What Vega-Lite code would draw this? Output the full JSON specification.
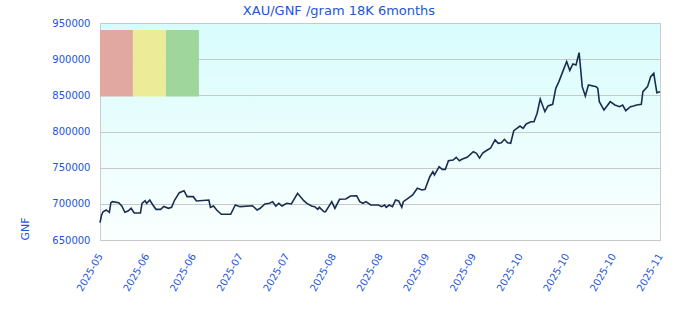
{
  "$schema": "https://vega.github.io/schema/vega-lite/v6.json",
  "width": 560,
  "height": 217,
  "autosize": "none",
  "padding": {"left": 100, "top": 23, "right": 20, "bottom": 80},
  "background": "white",
  "title": {"text": "XAU/GNF /gram 18K 6months", "font": "DejaVu Sans", "fontSize": 13, "fontWeight": "normal", "color": "#2255dd", "anchor": "middle", "dx": -41, "offset": -10, "baseline": "alphabetic"},
  "config": {
    "view": {"stroke": "#cccccc", "fill": {"gradient": "linear", "x1": 0, "y1": 0, "x2": 0, "y2": 1, "stops": [{"offset": 0, "color": "#d8fcfc"}, {"offset": 1, "color": "#fafffe"}]}},
    "font": "DejaVu Sans"
  },
  "datasets": {
    "bands": [
      {"zone": "a", "date": "2025-05-19T00:00", "date_end": "2025-05-29T14:00", "price": 848300, "price_end": 940300},
      {"zone": "b", "date": "2025-05-29T14:00", "date_end": "2025-06-09T05:00", "price": 848300, "price_end": 940300},
      {"zone": "c", "date": "2025-06-09T05:00", "date_end": "2025-06-19T19:00", "price": 848300, "price_end": 940300}
    ],
    "prices": [
      {"date": "2025-05-19T00:00", "price": 673900},
      {"date": "2025-05-19T12:00", "price": 684600},
      {"date": "2025-05-20T00:00", "price": 689100},
      {"date": "2025-05-21T00:00", "price": 691500},
      {"date": "2025-05-22T00:00", "price": 688300},
      {"date": "2025-05-22T12:00", "price": 701600},
      {"date": "2025-05-23T00:00", "price": 703000},
      {"date": "2025-05-25T00:00", "price": 701600},
      {"date": "2025-05-26T00:00", "price": 697000},
      {"date": "2025-05-27T00:00", "price": 688300},
      {"date": "2025-05-28T00:00", "price": 690100},
      {"date": "2025-05-29T00:00", "price": 693800},
      {"date": "2025-05-30T00:00", "price": 687300},
      {"date": "2025-06-01T00:00", "price": 687300},
      {"date": "2025-06-01T12:00", "price": 700700},
      {"date": "2025-06-02T12:00", "price": 704300},
      {"date": "2025-06-03T00:00", "price": 700700},
      {"date": "2025-06-04T00:00", "price": 705300},
      {"date": "2025-06-05T00:00", "price": 698400},
      {"date": "2025-06-06T00:00", "price": 692400},
      {"date": "2025-06-07T12:00", "price": 692400},
      {"date": "2025-06-08T12:00", "price": 696300},
      {"date": "2025-06-10T00:00", "price": 693800},
      {"date": "2025-06-11T00:00", "price": 695200},
      {"date": "2025-06-12T00:00", "price": 705300},
      {"date": "2025-06-13T12:00", "price": 715400},
      {"date": "2025-06-15T00:00", "price": 718200},
      {"date": "2025-06-16T00:00", "price": 709900},
      {"date": "2025-06-18T00:00", "price": 709900},
      {"date": "2025-06-19T00:00", "price": 704000},
      {"date": "2025-06-23T00:00", "price": 705300},
      {"date": "2025-06-23T12:00", "price": 695200},
      {"date": "2025-06-24T12:00", "price": 697000},
      {"date": "2025-06-25T12:00", "price": 691500},
      {"date": "2025-06-27T00:00", "price": 685500},
      {"date": "2025-06-30T00:00", "price": 685500},
      {"date": "2025-07-01T12:00", "price": 698400},
      {"date": "2025-07-03T00:00", "price": 696100},
      {"date": "2025-07-07T00:00", "price": 697400},
      {"date": "2025-07-08T12:00", "price": 691500},
      {"date": "2025-07-09T12:00", "price": 693800},
      {"date": "2025-07-11T00:00", "price": 699800},
      {"date": "2025-07-12T12:00", "price": 700700},
      {"date": "2025-07-13T12:00", "price": 703000},
      {"date": "2025-07-14T12:00", "price": 697000},
      {"date": "2025-07-15T12:00", "price": 700700},
      {"date": "2025-07-16T12:00", "price": 697000},
      {"date": "2025-07-18T00:00", "price": 700700},
      {"date": "2025-07-19T12:00", "price": 699800},
      {"date": "2025-07-21T12:00", "price": 714600},
      {"date": "2025-07-23T12:00", "price": 704300},
      {"date": "2025-07-24T12:00", "price": 700700},
      {"date": "2025-07-26T00:00", "price": 697000},
      {"date": "2025-07-27T00:00", "price": 696100},
      {"date": "2025-07-28T00:00", "price": 692400},
      {"date": "2025-07-28T12:00", "price": 695200},
      {"date": "2025-07-30T00:00", "price": 689100},
      {"date": "2025-07-30T12:00", "price": 689100},
      {"date": "2025-07-31T12:00", "price": 696100},
      {"date": "2025-08-01T12:00", "price": 703000},
      {"date": "2025-08-02T12:00", "price": 693800},
      {"date": "2025-08-04T00:00", "price": 706300},
      {"date": "2025-08-06T00:00", "price": 706700},
      {"date": "2025-08-07T12:00", "price": 710800},
      {"date": "2025-08-09T12:00", "price": 711200},
      {"date": "2025-08-10T12:00", "price": 703000},
      {"date": "2025-08-11T12:00", "price": 700700},
      {"date": "2025-08-12T12:00", "price": 703000},
      {"date": "2025-08-14T00:00", "price": 698400},
      {"date": "2025-08-16T12:00", "price": 698400},
      {"date": "2025-08-17T12:00", "price": 696100},
      {"date": "2025-08-18T12:00", "price": 698400},
      {"date": "2025-08-19T00:00", "price": 695200},
      {"date": "2025-08-20T00:00", "price": 698400},
      {"date": "2025-08-21T00:00", "price": 696100},
      {"date": "2025-08-22T00:00", "price": 705300},
      {"date": "2025-08-23T00:00", "price": 703900},
      {"date": "2025-08-24T00:00", "price": 695200},
      {"date": "2025-08-24T12:00", "price": 703000},
      {"date": "2025-08-26T00:00", "price": 707600},
      {"date": "2025-08-27T12:00", "price": 712200},
      {"date": "2025-08-29T00:00", "price": 721500},
      {"date": "2025-08-30T12:00", "price": 719100},
      {"date": "2025-08-31T12:00", "price": 720100},
      {"date": "2025-09-01T00:00", "price": 726000},
      {"date": "2025-09-02T00:00", "price": 737500},
      {"date": "2025-09-03T00:00", "price": 744400},
      {"date": "2025-09-03T12:00", "price": 739900},
      {"date": "2025-09-05T00:00", "price": 751300},
      {"date": "2025-09-06T00:00", "price": 747700},
      {"date": "2025-09-07T00:00", "price": 747700},
      {"date": "2025-09-08T00:00", "price": 759600},
      {"date": "2025-09-09T12:00", "price": 760600},
      {"date": "2025-09-10T12:00", "price": 764300},
      {"date": "2025-09-11T12:00", "price": 759600},
      {"date": "2025-09-12T12:00", "price": 762000},
      {"date": "2025-09-14T00:00", "price": 764300},
      {"date": "2025-09-16T00:00", "price": 772100},
      {"date": "2025-09-17T00:00", "price": 769800},
      {"date": "2025-09-18T00:00", "price": 763200},
      {"date": "2025-09-19T00:00", "price": 770100},
      {"date": "2025-09-20T12:00", "price": 774400},
      {"date": "2025-09-21T12:00", "price": 776800},
      {"date": "2025-09-23T00:00", "price": 788300},
      {"date": "2025-09-24T00:00", "price": 783700},
      {"date": "2025-09-25T00:00", "price": 784500},
      {"date": "2025-09-26T00:00", "price": 789200},
      {"date": "2025-09-27T00:00", "price": 784500},
      {"date": "2025-09-28T00:00", "price": 783700},
      {"date": "2025-09-29T00:00", "price": 801100},
      {"date": "2025-09-30T00:00", "price": 804400},
      {"date": "2025-10-01T00:00", "price": 807600},
      {"date": "2025-10-02T00:00", "price": 804400},
      {"date": "2025-10-03T00:00", "price": 810400},
      {"date": "2025-10-04T12:00", "price": 813500},
      {"date": "2025-10-05T12:00", "price": 813500},
      {"date": "2025-10-06T12:00", "price": 825200},
      {"date": "2025-10-07T12:00", "price": 844900},
      {"date": "2025-10-09T00:00", "price": 827400},
      {"date": "2025-10-10T00:00", "price": 835300},
      {"date": "2025-10-11T12:00", "price": 837600},
      {"date": "2025-10-12T12:00", "price": 859700},
      {"date": "2025-10-13T12:00", "price": 868900},
      {"date": "2025-10-14T12:00", "price": 880000},
      {"date": "2025-10-16T00:00", "price": 896800},
      {"date": "2025-10-17T00:00", "price": 884400},
      {"date": "2025-10-18T00:00", "price": 893300},
      {"date": "2025-10-19T00:00", "price": 891900},
      {"date": "2025-10-20T00:00", "price": 909000},
      {"date": "2025-10-20T12:00", "price": 886000},
      {"date": "2025-10-21T00:00", "price": 862000},
      {"date": "2025-10-22T00:00", "price": 849100},
      {"date": "2025-10-23T00:00", "price": 864300},
      {"date": "2025-10-25T12:00", "price": 862000},
      {"date": "2025-10-26T00:00", "price": 859700},
      {"date": "2025-10-26T12:00", "price": 841200},
      {"date": "2025-10-28T00:00", "price": 829700},
      {"date": "2025-10-30T00:00", "price": 841200},
      {"date": "2025-10-31T12:00", "price": 836600},
      {"date": "2025-11-02T00:00", "price": 834300},
      {"date": "2025-11-03T00:00", "price": 836600},
      {"date": "2025-11-04T00:00", "price": 828800},
      {"date": "2025-11-05T12:00", "price": 834300},
      {"date": "2025-11-06T12:00", "price": 835300},
      {"date": "2025-11-07T12:00", "price": 836600},
      {"date": "2025-11-09T00:00", "price": 837600},
      {"date": "2025-11-09T12:00", "price": 855000},
      {"date": "2025-11-11T00:00", "price": 862000},
      {"date": "2025-11-12T00:00", "price": 875800},
      {"date": "2025-11-13T00:00", "price": 880500},
      {"date": "2025-11-13T12:00", "price": 866600},
      {"date": "2025-11-14T00:00", "price": 853600},
      {"date": "2025-11-15T00:00", "price": 855000}
    ]
  },
  "encoding": {
    "x": {"field": "date", "type": "temporal", "title": null,
      "scale": {"domain": [{"year": 2025, "month": "May", "date": 19}, {"year": 2025, "month": "Nov", "date": 15}]},
      "axis": {"values": [
        {"year": 2025, "month": "May", "date": 19}, {"year": 2025, "month": "Jun", "date": 3}, {"year": 2025, "month": "Jun", "date": 18},
        {"year": 2025, "month": "Jul", "date": 3}, {"year": 2025, "month": "Jul", "date": 18}, {"year": 2025, "month": "Aug", "date": 2},
        {"year": 2025, "month": "Aug", "date": 17}, {"year": 2025, "month": "Sep", "date": 1}, {"year": 2025, "month": "Sep", "date": 16},
        {"year": 2025, "month": "Oct", "date": 1}, {"year": 2025, "month": "Oct", "date": 16}, {"year": 2025, "month": "Oct", "date": 31},
        {"year": 2025, "month": "Nov", "date": 15}],
        "format": "%Y-%m", "labelAngle": -60, "labelAlign": "right", "labelBaseline": "middle", "labelPadding": 14,
        "labelColor": "#2255dd", "labelFont": "DejaVu Sans", "labelFontSize": 10, "labelFlush": false, "labelOverlap": false, "labelBound": false,
        "ticks": false, "domain": false, "grid": false, "title": null}},
    "y": {"field": "price", "type": "quantitative", "title": "GNF",
      "scale": {"domain": [650000, 950000], "nice": false, "zero": false},
      "axis": {"values": [650000, 700000, 750000, 800000, 850000, 900000, 950000], "format": "d",
        "labelColor": "#2255dd", "labelFont": "DejaVu Sans", "labelFontSize": 10, "labelPadding": 10, "labelOverlap": false, "labelFlush": false, "labelBound": false,
        "ticks": false, "domain": false, "grid": true, "gridColor": "#c8c8c8", "gridWidth": 1,
        "title": "GNF", "titleColor": "#2255dd", "titleFont": "DejaVu Sans", "titleFontSize": 11, "titleFontWeight": "normal",
        "titleAngle": -90, "titleAlign": "left", "titleBaseline": "middle", "titleX": -75, "titleY": 217}}
  },
  "layer": [
    {
      "data": {"name": "bands"},
      "mark": {"type": "rect"},
      "encoding": {
        "x2": {"field": "date_end"},
        "y2": {"field": "price_end"},
        "color": {"field": "zone", "type": "nominal", "legend": null,
          "scale": {"domain": ["a", "b", "c"], "range": ["#e0a8a0", "#ecec98", "#9ed69b"]}}
      }
    },
    {
      "data": {"name": "prices"},
      "mark": {"type": "line", "color": "#1b2d4f", "strokeWidth": 1.6},
      "encoding": {}
    }
  ]
}
